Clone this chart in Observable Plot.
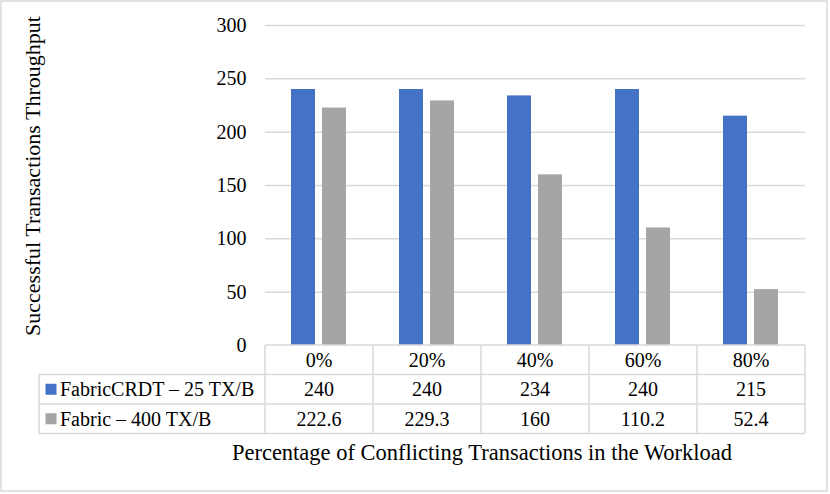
<!DOCTYPE html>
<html>
<head>
<meta charset="utf-8">
<script src="https://cdn.jsdelivr.net/npm/d3@7"></script>
<script src="https://cdn.jsdelivr.net/npm/@observablehq/plot@0.6"></script>
<style>
  html, body { margin: 0; padding: 0; background: #fff; }
  #chart { width: 830px; height: 494px; }
</style>
</head>
<body>
<div id="chart"></div>
<script>
const categories = ["0%", "20%", "40%", "60%", "80%"];
const seriesNames = ["FabricCRDT – 25 TX/B", "Fabric – 400 TX/B"];
const fabricCRDT = [240, 240, 234, 240, 215];
const fabric = [222.6, 229.3, 160, 110.2, 52.4];
const tableLabels = [["240", "240", "234", "240", "215"], ["222.6", "229.3", "160", "110.2", "52.4"]];
const yTicks = [0, 50, 100, 150, 200, 250, 300];
const colors = ["#4472C4", "#A5A5A5"];
const yTitle = "Successful Transactions Throughput";
const xTitle = "Percentage of Conflicting Transactions in the Workload";

const data = [];
categories.forEach((c, i) => {
  data.push({cat: c, series: seriesNames[0], value: fabricCRDT[i]});
  data.push({cat: c, series: seriesNames[1], value: fabric[i]});
});

const W = 830, H = 494, mL = 265, mR = 25, mT = 25, mB = 149;
const font = "Liberation Serif, Times New Roman, serif";
const gridColor = "#d9d9d9";

const plot = Plot.plot({
  width: W, height: H,
  marginLeft: mL, marginRight: mR, marginTop: mT, marginBottom: mB,
  style: {fontFamily: font, fontSize: "20px", color: "#000", background: "#fff", overflow: "visible"},
  fx: {domain: categories, padding: 0, axis: null, label: null},
  x: {domain: seriesNames, paddingInner: 0.21875, paddingOuter: 0.797, axis: null, label: null},
  y: {domain: [0, 300], ticks: yTicks, tickSize: 0, tickPadding: 19, label: null},
  color: {domain: seriesNames, range: colors},
  marks: [
    Plot.ruleY(yTicks.filter(d => d > 0), {stroke: gridColor, strokeWidth: 1.5}),
    Plot.barY(data, {fx: "cat", x: "series", y: "value", fill: "series"})
  ]
});

document.getElementById("chart").appendChild(plot);

// Table & titles, positioned with the plot's own scales
const svg = d3.select(plot);
const fxD = plot.scale("fx");
const yD = plot.scale("y");
let fx = fxD.apply ? (v) => fxD.apply(v) : d3.scaleBand().domain(fxD.domain).range(fxD.range).paddingInner(fxD.paddingInner || 0).paddingOuter(fxD.paddingOuter || 0);
const bw = fxD.bandwidth != null ? fxD.bandwidth : (fx.bandwidth ? fx.bandwidth() : (W - mL - mR) / categories.length);
const y0 = yD.apply ? yD.apply(0) : (H - mB);

const tableLeft = 39;
const tableRight = fx(categories[categories.length - 1]) + bw;
const plotLeft = fx(categories[0]);
const rowLines = [y0, y0 + 29.5, y0 + 59, y0 + 88.5];
const g = svg.append("g").attr("font-family", font).attr("font-size", 20).attr("fill", "#000").attr("text-anchor", "start");

// horizontal table lines
g.append("line").attr("x1", plotLeft).attr("x2", tableRight).attr("y1", rowLines[0]).attr("y2", rowLines[0])
  .attr("stroke", gridColor).attr("stroke-width", 1.5);
for (let k = 1; k < 4; k++) {
  g.append("line").attr("x1", tableLeft).attr("x2", tableRight).attr("y1", rowLines[k]).attr("y2", rowLines[k])
    .attr("stroke", gridColor).attr("stroke-width", 1.5);
}
// vertical lines
g.append("line").attr("x1", tableLeft).attr("x2", tableLeft).attr("y1", rowLines[1]).attr("y2", rowLines[3])
  .attr("stroke", gridColor).attr("stroke-width", 1.5);
categories.forEach((c, i) => {
  const x = fx(c);
  g.append("line").attr("x1", x).attr("x2", x).attr("y1", rowLines[0]).attr("y2", rowLines[3])
    .attr("stroke", gridColor).attr("stroke-width", 1.5);
});
g.append("line").attr("x1", tableRight).attr("x2", tableRight).attr("y1", rowLines[0]).attr("y2", rowLines[3])
  .attr("stroke", gridColor).attr("stroke-width", 1.5);

// header labels
categories.forEach((c, i) => {
  g.append("text").attr("x", fx(c) + bw / 2).attr("y", (rowLines[0] + rowLines[1]) / 2).attr("dy", "0.35em")
    .attr("text-anchor", "middle").text(c);
});
// series rows
seriesNames.forEach((s, r) => {
  const cy = (rowLines[r + 1] + rowLines[r + 2]) / 2;
  g.append("rect").attr("x", 45.5).attr("y", cy - 5.5).attr("width", 11).attr("height", 11).attr("fill", colors[r]);
  g.append("text").attr("x", 60).attr("y", cy).attr("dy", "0.35em").attr("text-anchor", "start").text(s);
  categories.forEach((c, i) => {
    g.append("text").attr("x", fx(c) + bw / 2).attr("y", cy).attr("dy", "0.35em")
      .attr("text-anchor", "middle").text(tableLabels[r][i]);
  });
});

// titles
g.append("text").attr("x", (plotLeft + tableRight) / 2 - 53).attr("y", 452).attr("dy", "0.35em")
  .attr("text-anchor", "middle").attr("font-size", 22.5).text(xTitle);
g.append("text").attr("transform", "translate(32,176) rotate(-90)").attr("dy", "0.35em")
  .attr("text-anchor", "middle").attr("font-size", 22).text(yTitle);

// outer border
svg.append("rect").attr("x", 1).attr("y", 1).attr("width", W - 4).attr("height", H - 4)
  .attr("fill", "none").attr("stroke", gridColor).attr("stroke-width", 1.5);
</script>
</body>
</html>
